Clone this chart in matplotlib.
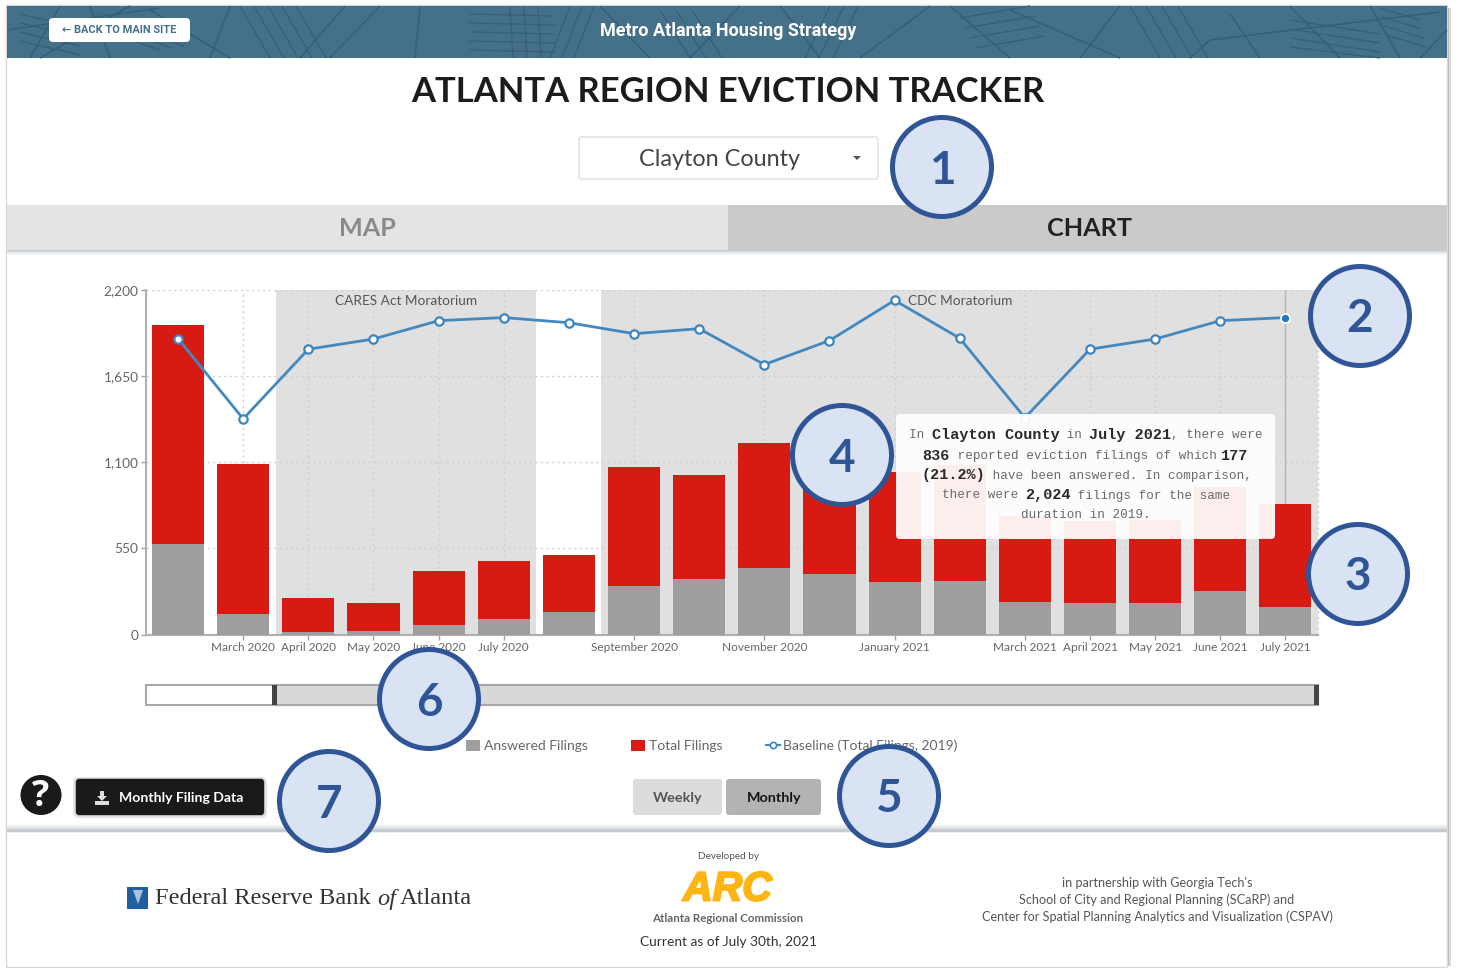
import matplotlib
matplotlib.use("Agg")
from matplotlib import pyplot as plt
from matplotlib import patheffects
from matplotlib.lines import Line2D
from matplotlib.patches import Ellipse, FancyBboxPatch, Polygon, Rectangle

W, H = 1457, 968

months = ["Feb 2020", "March 2020", "April 2020", "May 2020", "June 2020", "July 2020",
          "Aug 2020", "September 2020", "Oct 2020", "November 2020", "Dec 2020",
          "January 2021", "Feb 2021", "March 2021", "April 2021", "May 2021",
          "June 2021", "July 2021"]
total_filings = [1977, 1086, 230, 198, 404, 472, 510, 1069, 1020, 1222, 1110, 1039, 1084,
                 754, 722, 729, 944, 836]
answered_filings = [578, 134, 15, 24, 60, 96, 142, 312, 353, 427, 389, 336, 344, 210, 198,
                    198, 276, 177]
baseline_2019 = [1889, 1377, 1822, 1887, 2004, 2024, 1991, 1921, 1953, 1724, 1877, 2134,
                 1892, 1384, 1822, 1887, 2004, 2024]
labeled_months = [1, 2, 3, 4, 5, 7, 9, 11, 13, 14, 15, 16, 17]
y_ticks = [0, 550, 1100, 1650, 2200]
moratoria = [("CARES Act Moratorium", 1.5, 5.5, 3.5), ("CDC Moratorium", 6.5, 17.5, 12.0)]

# header street pattern, page pixels
streets = [(7, 30, 160, 8), (40, 58, 130, 6), (150, 10, 230, 58), (230, 6, 210, 58),
           (300, 58, 345, 6), (330, 58, 380, 6), (420, 6, 415, 58), (600, 6, 650, 58),
           (690, 58, 740, 6), (780, 6, 820, 58), (860, 58, 930, 6), (950, 6, 1010, 58),
           (1010, 10, 1120, 58), (1120, 6, 1080, 58), (1190, 58, 1210, 40), (1210, 40, 1440, 12),
           (1290, 6, 1340, 58), (1370, 6, 1400, 58), (60, 6, 30, 58), (90, 6, 110, 58),
           (1230, 14, 1260, 58), (1420, 58, 1447, 30)]
# blocks of parallel side streets: x, y, dx, dy, shift x, shift y, count
street_blocks = [(20, 14, 60, 14, 0, 9, 4), (240, 6, 30, 52, 14, 0, 5), (470, 14, 85, 2, 0, 9, 5),
                 (510, 6, 3, 52, 14, 0, 3), (660, 10, 30, 48, 16, 0, 3), (830, 6, -25, 52, 14, 0, 3),
                 (960, 18, 70, -12, 5, 10, 4), (1130, 6, 30, 52, 16, 0, 4), (1290, 20, 90, 14, 0, 9, 4),
                 (1380, 8, 40, 12, 2, 9, 4), (100, 30, 60, 20, 12, -2, 3), (570, 6, -20, 52, 12, 0, 3)]

fig = plt.figure(figsize=(W / 100, H / 100), dpi=100, facecolor="white")


def px_axes(left, top, right, bottom, zorder):
    return fig.add_axes([left / W, 1 - bottom / H, (right - left) / W, (bottom - top) / H],
                        zorder=zorder)


def box(ax, x0, y0, x1, y1, color, radius=0, edge="none", lw=0, zorder=2, alpha=None):
    patch = FancyBboxPatch((x0 + radius, y0 + radius), x1 - x0 - 2 * radius, y1 - y0 - 2 * radius,
                           boxstyle=f"round,pad={radius},rounding_size={radius}", fc=color,
                           ec=edge, lw=lw, zorder=zorder, alpha=alpha)
    ax.add_patch(patch)


def shade(ax, x0, x1, y0, colors):
    # soft shadow band, one pixel row per colour
    for i, c in enumerate(colors):
        ax.add_patch(Rectangle((x0, y0 + i), x1 - x0, 1, fc=c, ec="none", zorder=1))


# page layer
page = px_axes(0, 0, W, H, 0)
page.set_xlim(0, W)
page.set_ylim(H, 0)
page.axis("off")
page.add_patch(Rectangle((1447, 8), 4, 958, fc="#dcdcdc", ec="none"))
page.add_patch(Rectangle((1447, 8), 2, 958, fc="#b4b4b4", ec="none"))
page.add_patch(Rectangle((6, 5), 1441, 962, fc="white", ec="#d8d8d8", lw=1))
page.add_patch(Rectangle((7, 6), 1440, 52, fc="#44708a", ec="none", zorder=2))
for x0, y0, x1, y1 in streets:
    page.plot([x0, x1], [y0, y1], color="#36607a", lw=1.2, zorder=3, solid_capstyle="butt")
for x0, y0, dx, dy, sx, sy, n in street_blocks:
    for k in range(n):
        page.plot([x0 + k * sx, x0 + k * sx + dx], [y0 + k * sy, min(y0 + k * sy + dy, 58)],
                  color="#375f79", lw=0.9, zorder=3, solid_capstyle="butt")
box(page, 49, 18, 190, 42, "white", radius=4, zorder=4)
page.text(119.5, 30, "← BACK TO MAIN SITE", color="#44708a", fontsize=7.9,
          family=["Roboto", "DejaVu Sans"], weight="bold", ha="center", va="center", zorder=5)
page.text(728, 30.5, "Metro Atlanta Housing Strategy", color="white", fontsize=12.95, family="Roboto",
          weight="bold", ha="center", va="center", zorder=5)
page.text(728, 92.5, "ATLANTA REGION EVICTION TRACKER", color="#1c1c1c", fontsize=24.9, family="Lato",
          weight="bold", ha="center", va="center")

box(page, 579, 137, 878, 179, "white", radius=3, edge="#dddddd", lw=1)
page.text(719.5, 159.5, "Clayton County", color="#444444", fontsize=16.8, family="Lato", ha="center",
          va="center", zorder=4)
page.add_patch(Polygon([(853, 156), (861, 156), (857, 160)], fc="#555555", ec="none", zorder=4))

shade(page, 7, 1447, 250, ["#c4ccd3", "#d4dade", "#e2e6e9", "#edf0f2", "#f5f6f7", "#fafbfb"])
page.add_patch(Rectangle((7, 205), 721, 45, fc="#e4e4e4", ec="none", zorder=2))
page.add_patch(Rectangle((728, 205), 719, 45, fc="#cacaca", ec="none", zorder=2))
page.text(367, 228, "MAP", color="#8a8a8a", fontsize=18.2, family="Lato", weight="bold",
          ha="center", va="center", zorder=3)
page.text(1089, 228, "CHART", color="#222222", fontsize=18.2, family="Lato", weight="bold",
          ha="center", va="center", zorder=3)

# range slider
page.add_patch(Rectangle((146, 685), 1172, 20, fc="white", ec="#a8a8a8", lw=1.5, zorder=2))
page.add_patch(Rectangle((274, 685), 1044, 20, fc="#d8d8d8", ec="#a8a8a8", lw=1.5, zorder=2))
page.add_patch(Rectangle((272, 685), 5, 20, fc="#444444", ec="none", zorder=3))
page.add_patch(Rectangle((1314, 685), 5, 20, fc="#444444", ec="none", zorder=3))

# controls
page.add_patch(Ellipse((41, 795), 41, 40, fc="#1a1a1a", ec="none", zorder=2))
page.text(41, 797, "?", color="white", fontsize=26, family="Open Sans", weight="bold",
          ha="center", va="center", zorder=3)
box(page, 73, 777, 267, 818, "#e4e4e4", radius=6, zorder=2)
box(page, 75, 778, 265, 816, "#b5b5b5", radius=5, zorder=2)
box(page, 76, 779, 264, 815, "#1a1a1a", radius=3, zorder=3)
page.add_patch(Polygon([(100, 791), (104, 791), (104, 796), (107, 796), (102, 801), (97, 796),
                        (100, 796)], fc="#dddddd", ec="none", zorder=4))
page.add_patch(Rectangle((95, 801), 14, 3.5, fc="#dddddd", ec="none", zorder=4))
page.text(181, 797.5, "Monthly Filing Data", color="white", fontsize=10.1, family="Lato",
          weight="bold", ha="center", va="center", zorder=4)
box(page, 633, 779, 722, 815, "#dcdcdc", radius=3)
box(page, 726, 779, 821, 815, "#b3b3b3", radius=3)
page.text(677.5, 797.5, "Weekly", color="#555555", fontsize=10.4, family="Lato", weight="bold",
          ha="center", va="center", zorder=4)
page.text(774, 797.5, "Monthly", color="#151515", fontsize=10.4, family="Lato", weight="bold",
          ha="center", va="center", zorder=4)

# footer
shade(page, 7, 1447, 823, ["#fcfcfc", "#f8f9f9", "#f2f3f4", "#ebedef", "#e2e5e8", "#d8dce0", "#ccd1d6",
                           "#c2c8ce", "#c8cdd2", "#eceef0"])
page.add_patch(Rectangle((127, 887), 21, 22, fc="#1f5f9e", ec="none"))
page.add_patch(Polygon([(133, 890), (143, 890), (138, 904)], fc="#a9c4dc", ec="none", zorder=2))
page.text(155, 899, "Federal Reserve Bank", color="#333333", fontsize=17.6, family="Liberation Serif",
          ha="left", va="center")
page.text(377, 900, "of", color="#333333", fontsize=17.6, family="Liberation Serif", style="italic",
          ha="left", va="center")
page.text(400, 899, "Atlanta", color="#333333", fontsize=17.6, family="Liberation Serif",
          ha="left", va="center")
page.text(728, 856.5, "Developed by", color="#555555", fontsize=7.2, family="Lato", ha="center",
          va="center")
arc = page.text(727.5, 889.5, "ARC", color="#fdb515", fontsize=29.5, family="Liberation Sans", weight="bold",
                style="italic", ha="center", va="center")
arc.set_path_effects([patheffects.withStroke(linewidth=1.5, foreground="#fdb515")])
page.text(728, 918, "Atlanta Regional Commission", color="#666666", fontsize=8.3, family="Lato",
          weight="bold", ha="center", va="center")
page.text(728, 941.5, "Current as of July 30th, 2021", color="#333333", fontsize=9.95, family="Lato",
          ha="center", va="center")
page.text(1157, 900, "in partnership with Georgia Tech's\nSchool of City and Regional Planning (SCaRP) and\n"
          "Center for Spatial Planning Analytics and Visualization (CSPAV)", color="#555555",
          fontsize=9.1, family="Lato", ha="center", va="center", linespacing=1.42)

# chart
ax = px_axes(145.5, 290, 1318, 634.5, 1)
ax.patch.set_alpha(0)
x = list(range(len(months)))
for name, start, end, label_x in moratoria:
    ax.axvspan(start, end, color="#e0e0e0", lw=0, zorder=0)
    ax.text(label_x, 2130, name, color="#555555", fontsize=9.85, family="Lato", ha="center",
            va="center", zorder=5)
ax.set_yticks(y_ticks)
ax.set_yticklabels([f"{v:,}" for v in y_ticks])
ax.set_xticks(labeled_months)
ax.set_xticklabels([months[i] for i in labeled_months])
ax.grid(True, color="#cfcfcf", lw=1, ls=(0, (1.5, 2.5)), zorder=1)
ax.set_axisbelow(True)
ax.bar(x, total_filings, width=0.8, color="#d71a12", zorder=2, label="Total Filings")
ax.bar(x, answered_filings, width=0.8, color="#9e9e9e", zorder=3, label="Answered Filings")
ax.axvline(17, color="#b5b5b5", lw=1, zorder=1.5)
ax.plot(x[:-1], baseline_2019[:-1], color="#4389bf", lw=2, marker="o", ms=6, mfc="white",
        mec="#3b86c0", mew=1.6, zorder=4, clip_on=False)
ax.plot(x[-2:], baseline_2019[-2:], color="#4389bf", lw=2, zorder=3.9)
ax.plot(x[-1], baseline_2019[-1], marker="o", ms=6.5, mfc="#1f7bc0", mec="white", mew=1.2, zorder=4,
        clip_on=False)
ax.set_xlim(-0.5, 17.5)
ax.set_ylim(0, 2200)
for side in ["top", "right"]:
    ax.spines[side].set_visible(False)
for side in ["left", "bottom"]:
    ax.spines[side].set_color("#b0b0b0")
    ax.spines[side].set_linewidth(1.5)
ax.plot([1, 1], [0, 1], transform=ax.transAxes, color="#cfcfcf", lw=1, ls=(0, (1.5, 2.5)),
        clip_on=False, zorder=1)
ax.tick_params(axis="x", color="#a0a0a0", length=3.6, width=1, labelcolor="#666666", labelsize=8.5,
               pad=1.5)
ax.tick_params(axis="y", color="#a0a0a0", length=3.6, width=1, labelcolor="#666666", labelsize=9.9,
               pad=1.5)
for label in ax.get_xticklabels() + ax.get_yticklabels():
    label.set_family("Lato")
    label.set_y(label.get_position()[1])

handles = [Rectangle((0, 0), 1, 1, fc="#9e9e9e"), Rectangle((0, 0), 1, 1, fc="#d71a12"),
           Line2D([0], [0], color="#4389bf", lw=1.5, marker="o", ms=4.5, mfc="white", mec="#3b86c0",
                  mew=1.2)]
ax.legend(handles, ["Answered Filings", "Total Filings", "Baseline (Total Filings, 2019)"], ncol=3,
          loc="center", bbox_to_anchor=(712 / W, 1 - 746 / H), bbox_transform=fig.transFigure,
          frameon=False, prop={"family": "Lato", "size": 10.0}, labelcolor="#666666", handlelength=1.0,
          handleheight=0.9, handletextpad=0.25, columnspacing=3.15)

# overlay layer: tooltip and numbered callouts
top = px_axes(0, 0, W, H, 2)
top.set_xlim(0, W)
top.set_ylim(H, 0)
top.axis("off")
top.patch.set_alpha(0)
box(top, 896, 414, 1275, 539, "white", radius=4, zorder=2, alpha=0.93)

REG = (7.55, 9.06)    # px per char, font size
BOLD = (9.1, 10.9)
tooltip_lines = [
    (435.5, [("In ", 0), ("Clayton County", 1), (" in ", 0), ("July 2021", 1), (", there were", 0)]),
    (455.5, [("836", 1), (" reported eviction filings of which ", 0), ("177", 1)]),
    (475.5, [("(21.2%)", 1), (" have been answered. In comparison,", 0)]),
    (495.5, [("there were ", 0), ("2,024", 1), (" filings for the same", 0)]),
    (514.5, [("duration in 2019.", 0)]),
]
for y, parts in tooltip_lines:
    width = sum(len(s) * (BOLD if b else REG)[0] for s, b in parts)
    pos = 1085.5 - width / 2
    for s, b in parts:
        step, size = BOLD if b else REG
        top.text(pos, y, s, color="#2a2a2a" if b else "#6a6a6a", fontsize=size,
                 family="Liberation Mono", weight="bold" if b else "normal", ha="left",
                 va="center", zorder=3)
        pos += len(s) * step

callouts = [("1", 942, 167), ("2", 1360, 316), ("3", 1358, 574), ("4", 842, 455), ("5", 889, 796),
            ("6", 429, 699), ("7", 329, 801)]
for num, cx, cy in callouts:
    top.add_patch(Ellipse((cx, cy), 99, 99, fc="#dae3f3", ec="#2f5597", lw=3.6, zorder=4))
    top.text(cx, cy + 3.5, num, color="#2f5597", fontsize=33, family="Lato", weight="bold", ha="center",
             va="center", zorder=5)

fig.savefig("out.png", dpi=100)
